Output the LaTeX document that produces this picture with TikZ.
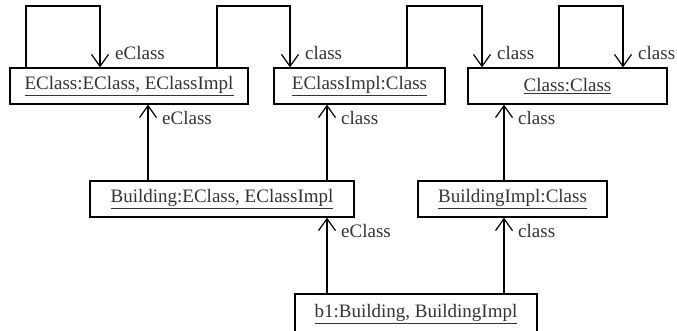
\documentclass[tikz,border=0pt]{standalone}
\usepackage{fontspec}
\setmainfont{Liberation Serif}
\usetikzlibrary{arrows.meta,calc}
\begin{document}
\begin{tikzpicture}[x=1pt,y=-1pt,
  obj/.style={draw,line width=1.2pt,minimum height=36pt,inner sep=0pt,
    font=\fontsize{19}{22}\selectfont,text=black!80},
  assoc/.style={line width=1.3pt,-{Straight Barb[length=12pt,width=17pt,line width=1.2pt]}},
  rolelbl/.style={anchor=base west,inner sep=0pt,font=\fontsize{19}{22}\selectfont,text=black!80}]
\useasboundingbox (0,0) rectangle (677,330);

% objects
\node[obj,minimum width=238pt] (ee) at (129,86) {\underline{EClass:EClass, EClassImpl}};
\node[obj,minimum width=171pt] (ei) at (359.5,86) {\underline{EClassImpl:Class}};
\node[obj,minimum width=199pt] (cc) at (567.5,86) {\underline{Class:Class}};
\node[obj,minimum width=264pt] (bd) at (222,199) {\underline{Building:EClass, EClassImpl}};
\node[obj,minimum width=189pt] (bi) at (512.5,199) {\underline{BuildingImpl:Class}};
\node[obj,minimum width=242pt,minimum height=40pt] (b1) at (416,314) {\underline{b1:Building, BuildingImpl}};

% loops over the top row
\coordinate (l1) at (26,6);  \coordinate (r1) at (100,6);
\coordinate (l2) at (217,6); \coordinate (r2) at (290,6);
\coordinate (l3) at (407,6); \coordinate (r3) at (482,6);
\coordinate (l4) at (559,6); \coordinate (r4) at (623,6);

\draw[assoc] (l1 |- ee.north) -- (l1) -- (r1) -- (r1 |- ee.north);
\draw[assoc] (l2 |- ee.north) -- (l2) -- (r2) -- (r2 |- ei.north);
\draw[assoc] (l3 |- ei.north) -- (l3) -- (r3) -- (r3 |- cc.north);
\draw[assoc] (l4 |- cc.north) -- (l4) -- (r4) -- (r4 |- cc.north);

\node[rolelbl] (t1) at ($(r1 |- ee.north)+(15,-8)$) {eClass};
\node[rolelbl] (t2) at ($(r2 |- ei.north)+(15,-8)$) {class};
\node[rolelbl] (t3) at ($(r3 |- cc.north)+(15,-8)$) {class};
\node[rolelbl] (t4) at ($(r4 |- cc.north)+(15,-8)$) {class};

% upward links
\coordinate (x1) at (148,0);
\coordinate (x2) at (327,0);
\coordinate (x3) at (504,0);

\draw[assoc] (x1 |- bd.north) -- (x1 |- ee.south);
\draw[assoc] (x2 |- bd.north) -- (x2 |- ei.south);
\draw[assoc] (x3 |- bi.north) -- (x3 |- cc.south);
\draw[assoc] (x2 |- b1.north) -- (x2 |- bd.south);
\draw[assoc] (x3 |- b1.north) -- (x3 |- bi.south);

\node[rolelbl] (u1) at ($(x1 |- ee.south)+(14,20)$) {eClass};
\node[rolelbl] (u2) at ($(x2 |- ei.south)+(14,20)$) {class};
\node[rolelbl] (u3) at ($(x3 |- cc.south)+(14,20)$) {class};
\node[rolelbl] (u4) at ($(x2 |- bd.south)+(14,20)$) {eClass};
\node[rolelbl] (u5) at ($(x3 |- bi.south)+(14,20)$) {class};
\end{tikzpicture}
\end{document}
